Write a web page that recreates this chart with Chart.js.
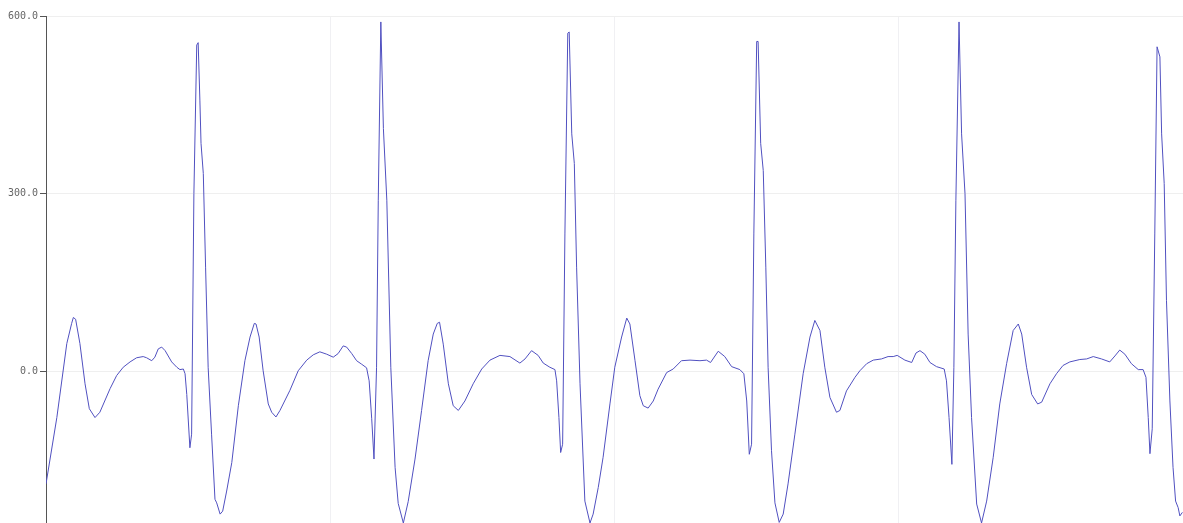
<!DOCTYPE html>
<html>
<head>
<meta charset="utf-8">
<script src="https://cdn.jsdelivr.net/npm/chart.js@4"></script>
<style>
  html, body { margin: 0; padding: 0; background: #fff; }
  #wrap { width: 1183px; height: 523px; }
</style>
</head>
<body>
<div id="wrap"><canvas id="ecgChart"></canvas></div>
<script>
// sample index of each reading
const times = [
  0, 3.8, 7.3, 9.0, 9.6, 10.4, 11.9, 13.7, 15.2, 17.2, 18.9, 22.5, 24.8, 27.1, 29.5, 31.8, 34.1, 35.3, 37.1, 38.2,
  39.4, 40.6, 41.8, 44.1, 45.9, 47.0, 48.2, 48.8, 49.4, 50.5, 51.1, 51.9, 52.9, 53.4, 54.0, 54.4, 55.2, 56.0, 56.9, 58.1,
  59.3, 59.9, 61.1, 62.0, 63.4, 65.2, 67.5, 69.8, 71.6, 73.1, 73.7, 74.8, 76.2, 78.0, 79.2, 80.7, 82.1, 85.6, 88.5, 91.5,
  93.8, 96.1, 98.5, 100.8, 102.5, 104.3, 105.5, 107.3, 109.0, 110.8, 112.5, 113.4, 114.3, 115.1, 116.0, 116.6, 117.5, 118.4, 119.6, 121.0,
  122.5, 123.6, 125.4, 127.1, 129.5, 131.8, 134.1, 135.9, 137.3, 138.1, 139.4, 141.2, 142.9, 144.7, 147.0, 149.9, 152.9, 155.8, 159.3, 162.8,
  166.3, 168.1, 170.4, 172.7, 174.5, 176.8, 178.6, 179.2, 180.0, 180.6, 181.3, 182.1, 183.1, 183.6, 184.5, 185.4, 186.2, 187.4, 189.1, 190.9,
  192.0, 193.8, 195.5, 197.9, 199.6, 202.0, 203.8, 204.9, 206.7, 208.4, 209.6, 211.3, 213.1, 214.8, 217.8, 220.1, 223.0, 226.0, 229.5, 231.8,
  233.2, 235.9, 238.2, 240.6, 243.5, 244.9, 245.9, 246.8, 247.6, 248.4, 249.4, 249.9, 250.8, 251.7, 252.6, 253.4, 254.6, 255.8, 257.3, 258.7,
  260.4, 262.8, 265.7, 268.1, 269.8, 271.6, 273.3, 275.1, 277.4, 278.6, 280.9, 283.9, 285.6, 288.0, 290.3, 293.2, 295.5, 297.3, 298.7, 301.4,
  303.8, 305.3, 306.7, 308.4, 310.2, 312.5, 315.2, 316.0, 316.9, 317.9, 318.6, 319.3, 320.4, 321.3, 322.5, 323.6, 324.8, 326.6, 328.3, 330.1,
  332.4, 334.7, 337.1, 339.4, 341.2, 342.4, 344.1, 345.9, 348.0, 349.4, 352.3, 354.6, 356.9, 359.3, 362.8, 365.2, 367.5, 370.4, 373.3, 375.1,
  376.8, 378.6, 380.9, 383.3, 385.0, 386.0, 386.8, 387.4, 388.2, 389.1, 389.9, 390.9, 391.5, 392.4, 393.2, 394.4, 395.5, 396.4, 397.3, 397.9,
  398.8
];

// signal amplitude at each reading
const values = [
  -190, -78, 47, 81, 91, 88, 47, -21, -63, -78, -69, -29, -7, 7, 16, 23, 25, 23, 18, 24,
  38, 41, 35, 16, 7, 3, 4, -4, -39, -129, -106, 300, 551, 555, 458, 385, 334, 176, 7, -106,
  -216, -222, -241, -236, -202, -154, -58, 18, 58, 81, 80, 58, 1, -55, -69, -77, -66, -32, 1, 19,
  28, 33, 29, 24, 30, 43, 41, 30, 18, 12, 6, -16, -80, -148, 7, 289, 590, 410, 289, 7,
  -162, -223, -256, -220, -148, -66, 18, 63, 81, 83, 46, -21, -58, -66, -50, -21, 4, 19, 27, 25,
  14, 21, 35, 27, 14, 7, 3, -16, -78, -137, -123, 232, 571, 573, 401, 351, 176, -21, -219, -256,
  -241, -196, -145, -55, 7, 58, 90, 80, 18, -41, -58, -62, -50, -30, -2, 4, 18, 19, 18, 19,
  15, 34, 25, 8, 3, -4, -50, -140, -123, 232, 557, 557, 385, 339, 176, 7, -134, -222, -255, -241,
  -190, -106, -4, 58, 86, 69, 7, -44, -69, -66, -33, -10, 1, 13, 19, 21, 25, 25, 27, 19,
  15, 31, 35, 29, 15, 8, 4, -16, -78, -157, 7, 289, 590, 401, 300, 63, -78, -224, -256, -219,
  -145, -55, 13, 69, 80, 63, 7, -39, -55, -52, -21, -4, 10, 16, 20, 21, 25, 21, 16, 26,
  36, 29, 13, 3, 3, -10, -78, -139, -97, 232, 548, 531, 401, 317, 120, -50, -162, -219, -230, -244,
  -238
];

const yTicks = [0, 300, 600];

const points = times.map((t, i) => ({ x: t, y: values[i] }));

new Chart(document.getElementById('ecgChart'), {
  type: 'line',
  data: {
    datasets: [{
      label: 'ECG',
      data: points,
      borderColor: '#5050c0',
      borderWidth: 1,
      pointRadius: 0,
      tension: 0,
      fill: false
    }]
  },
  options: {
    responsive: true,
    maintainAspectRatio: false,
    animation: false,
    layout: { padding: { top: 16, left: 0, right: 0, bottom: 0 } },
    plugins: { legend: { display: false }, tooltip: { enabled: false } },
    scales: {
      x: {
        type: 'linear',
        min: 0,
        max: 399,
        afterFit: s => { s.height = 0; },
        ticks: { display: false, stepSize: 100 },
        grid: { color: '#f0f0f3', drawTicks: false, tickLength: 0 },
        border: { display: false }
      },
      y: {
        min: -256,
        max: 600,
        afterBuildTicks: s => { s.ticks = yTicks.map(v => ({ value: v })); },
        afterFit: s => { s.width = 46; s.paddingTop = 0; s.paddingBottom = 0; },
        ticks: {
          font: { family: 'DejaVu Sans Mono', size: 10 },
          color: '#666',
          padding: 2,
          callback: v => v.toFixed(1)
        },
        grid: { color: '#efefef', tickLength: 6, tickColor: '#555' },
        border: { display: true, color: '#555', width: 1 }
      }
    }
  }
});
</script>
</body>
</html>
